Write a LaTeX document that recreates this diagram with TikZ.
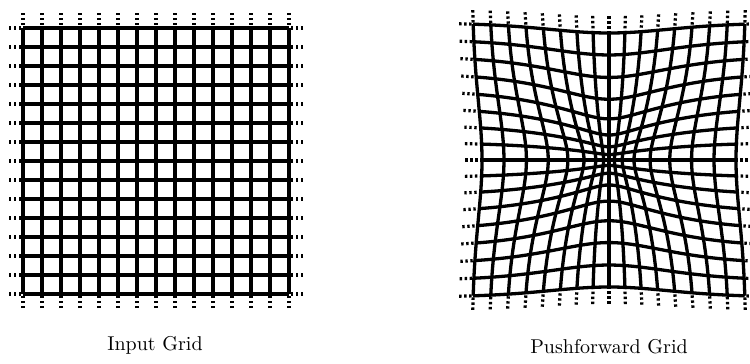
\documentclass[tikz,border=0pt]{standalone}
\usetikzlibrary{positioning}
\tikzset{
  gridline/.style={line width=1.65pt},
  gridtail/.style={line width=1.6pt,dash pattern=on 1.2pt off 1.3pt},
  declare function={pfscale(\r)=136.8-96.8*exp(-2.29*\r*\r);}
}

\begin{document}
\begin{tikzpicture}[x=0.5pt,y=-0.5pt]
    \useasboundingbox (0,0) rectangle (750,364);
    % input grid
    \foreach \i in {0,...,14}{
      \draw[gridline] (23+19*\i,28) -- (23+19*\i,294);
      \draw[gridline] (23,28+19*\i) -- (289,28+19*\i);
      \draw[gridtail] (23+19*\i,13) -- (23+19*\i,28);
      \draw[gridtail] (23+19*\i,308) -- (23+19*\i,294);
      \draw[gridtail] (9,28+19*\i) -- (23,28+19*\i);
      \draw[gridtail] (303,28+19*\i) -- (289,28+19*\i);
    }
    % pushforward grid
    \foreach \i in {0,...,16}{
      \pgfmathsetmacro{\c}{-1+\i/8}
      \draw[gridline] plot[smooth,domain=-1:1,samples=41,variable=\t]
        ({609+(\c)*pfscale(sqrt((\c)*(\c)+(\t)*(\t)))},{160+(\t)*pfscale(sqrt((\c)*(\c)+(\t)*(\t)))});
      \draw[gridline] plot[smooth,domain=-1:1,samples=41,variable=\t]
        ({609+(\t)*pfscale(sqrt((\c)*(\c)+(\t)*(\t)))},{160+(\c)*pfscale(sqrt((\c)*(\c)+(\t)*(\t)))});
      \draw[gridtail] plot[domain=-1.1:-1,samples=3,variable=\t]
        ({609+(\c)*pfscale(sqrt((\c)*(\c)+(\t)*(\t)))},{160+(\t)*pfscale(sqrt((\c)*(\c)+(\t)*(\t)))});
      \draw[gridtail] plot[domain=1.1:1,samples=3,variable=\t]
        ({609+(\c)*pfscale(sqrt((\c)*(\c)+(\t)*(\t)))},{160+(\t)*pfscale(sqrt((\c)*(\c)+(\t)*(\t)))});
      \draw[gridtail] plot[domain=-1.1:-1,samples=3,variable=\t]
        ({609+(\t)*pfscale(sqrt((\c)*(\c)+(\t)*(\t)))},{160+(\c)*pfscale(sqrt((\c)*(\c)+(\t)*(\t)))});
      \draw[gridtail] plot[domain=1.1:1,samples=3,variable=\t]
        ({609+(\t)*pfscale(sqrt((\c)*(\c)+(\t)*(\t)))},{160+(\c)*pfscale(sqrt((\c)*(\c)+(\t)*(\t)))});
    }
    \node[anchor=base] (inputlabel) at (155,350) {Input Grid};
    \node[anchor=base] (pushlabel) at (609,353) {Pushforward Grid};
  \end{tikzpicture}
\end{document}
